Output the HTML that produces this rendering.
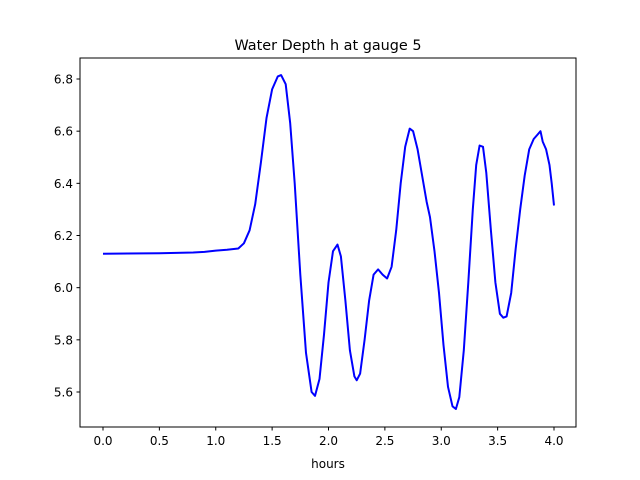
<!DOCTYPE html>
<html><head><meta charset="utf-8"><style>
body{margin:0;background:#fff}
svg{display:block;font-family:"DejaVu Sans","Liberation Sans",sans-serif}
</style></head><body>
<svg id="chart" width="640" height="480">
<rect x="0" y="0" width="640" height="480" fill="#fff"/>
<text x="328" y="50" text-anchor="middle" font-size="14.4">Water Depth h at gauge 5</text>
<g id="xticks"></g>
<g id="yticks"></g>
<polyline id="line" fill="none" stroke="#0000ff" stroke-width="2" stroke-linejoin="round"/>
<rect x="80" y="58" width="496" height="369" fill="none" stroke="#000" stroke-width="1"/>
<text x="328" y="468" text-anchor="middle" font-size="12">hours</text>
</svg>
<script>
const hours=[0,0.5,0.8,0.9,1.0,1.1,1.2,1.25,1.3,1.35,1.4,1.45,1.5,1.55,1.58,1.62,1.66,1.7,1.75,1.8,1.85,1.88,1.92,1.96,2.0,2.04,2.08,2.11,2.15,2.19,2.23,2.25,2.28,2.32,2.36,2.4,2.44,2.48,2.52,2.56,2.6,2.64,2.68,2.72,2.75,2.79,2.83,2.87,2.9,2.94,2.98,3.02,3.06,3.1,3.13,3.16,3.2,3.24,3.28,3.31,3.34,3.37,3.4,3.44,3.48,3.52,3.55,3.58,3.62,3.66,3.7,3.74,3.78,3.82,3.85,3.88,3.9,3.93,3.96,3.98,4.0];
const depth=[6.13,6.132,6.135,6.137,6.142,6.145,6.15,6.17,6.22,6.32,6.48,6.65,6.76,6.81,6.815,6.78,6.63,6.40,6.05,5.75,5.60,5.585,5.65,5.82,6.02,6.14,6.165,6.12,5.95,5.76,5.66,5.645,5.67,5.80,5.95,6.05,6.07,6.05,6.035,6.08,6.22,6.40,6.54,6.61,6.60,6.53,6.43,6.33,6.27,6.14,5.98,5.78,5.62,5.545,5.535,5.58,5.76,6.02,6.30,6.47,6.545,6.54,6.44,6.22,6.02,5.90,5.885,5.89,5.98,6.15,6.30,6.43,6.53,6.57,6.585,6.60,6.56,6.53,6.47,6.40,6.315];
const xTickLabels=["0.0","0.5","1.0","1.5","2.0","2.5","3.0","3.5","4.0"];
const yTickLabels=["5.6","5.8","6.0","6.2","6.4","6.6","6.8"];
const xs=h=>103+h*112.75;
const ys=v=>392-(v-5.6)*260.83;
const ns="http://www.w3.org/2000/svg";
const xg=document.getElementById('xticks'), yg=document.getElementById('yticks');
xTickLabels.forEach(l=>{
  const x=xs(parseFloat(l));
  const t=document.createElementNS(ns,'line');
  t.setAttribute('x1',x);t.setAttribute('x2',x);t.setAttribute('y1',427);t.setAttribute('y2',430.5);t.setAttribute('stroke','#000');
  
  
  xg.appendChild(t);
  const s=document.createElementNS(ns,'text');
  s.setAttribute('x',x);s.setAttribute('y',445);s.setAttribute('text-anchor','middle');s.setAttribute('font-size','12');
  s.textContent=l;
  
  
  xg.appendChild(s);
});
yTickLabels.forEach(l=>{
  const y=ys(parseFloat(l));
  const t=document.createElementNS(ns,'line');
  t.setAttribute('x1',76.5);t.setAttribute('x2',80);t.setAttribute('y1',y);t.setAttribute('y2',y);t.setAttribute('stroke','#000');
  
  
  yg.appendChild(t);
  const s=document.createElementNS(ns,'text');
  s.setAttribute('x',73);s.setAttribute('y',y+4.5);s.setAttribute('text-anchor','end');s.setAttribute('font-size','12');
  s.textContent=l;
  
  
  yg.appendChild(s);
});
document.getElementById('line').setAttribute('points',hours.map((h,i)=>xs(h).toFixed(1)+','+ys(depth[i]).toFixed(1)).join(' '));
</script>
</body></html>
